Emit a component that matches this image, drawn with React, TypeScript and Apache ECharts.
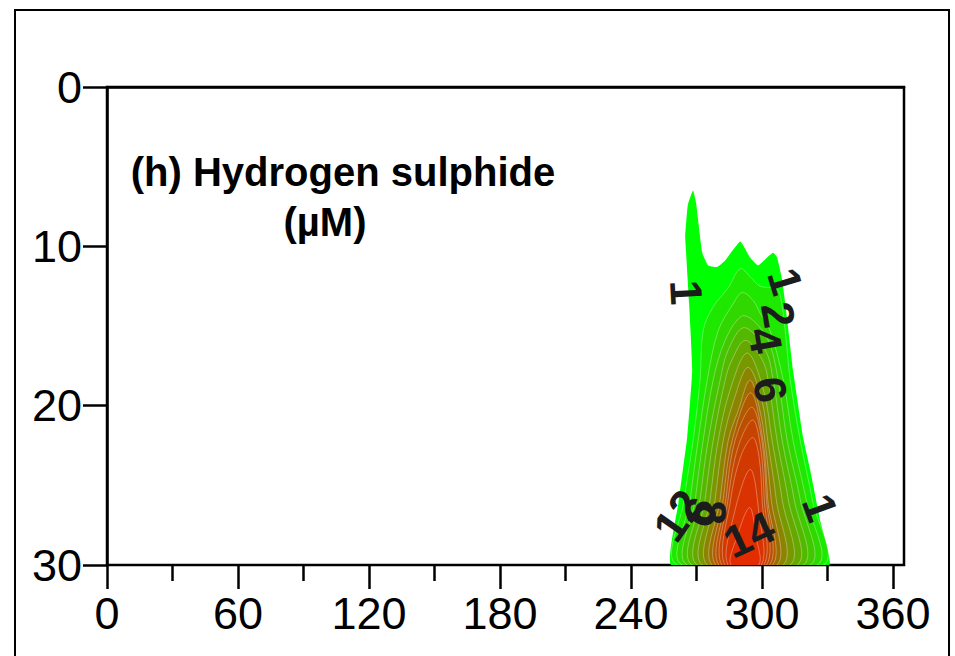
import React, { useEffect, useRef } from "react";
import * as echarts from "echarts";

// Axis tick labels
const xTickLabels = [0, 60, 120, 180, 240, 300, 360];
const yTickLabels = [0, 10, 20, 30];

// Contour outlines: [day of year, depth (m)]
const boundary = [[258.4,30],[261.7,26.1],[265.7,22.0],[268.0,17.8],[266.6,13.6],[265.2,10.4],[264.8,9.4],[266.0,7.4],[268.4,6.5],[269.8,7.3],[272.6,10.4],[275.3,11.2],[279.4,11.3],[283.0,10.9],[290.0,9.7],[294.5,10.7],[298.2,11.2],[302.3,10.7],[305.1,10.4],[306.9,10.7],[309.2,12.1],[311.5,14.6],[314.2,17.8],[318.8,22.0],[322.0,24.0],[326.6,27.2],[330.7,30]];
const level1 = [[261.1,30],[264.3,25.9],[268.4,22.2],[271.6,18.4],[273.0,15.3],[277.6,13.8],[284.5,12.6],[290.0,11.4],[294.5,11.9],[299.1,12.5],[306.9,12.7],[309.2,13.8],[310.6,15.3],[312.9,18.4],[317.5,22.2],[323.0,25.9],[328.0,30]];
const level2 = [[263.4,30],[267.1,25.9],[270.7,22.2],[274.9,18.4],[279.9,15.3],[286.8,13.6],[290.9,12.9],[295.9,13.4],[299.1,14.2],[303.7,15.3],[309.7,18.4],[314.2,22.2],[320.2,25.9],[325.2,30]];
const level3 = [[265.7,30],[269.4,25.9],[273.0,22.2],[277.6,18.4],[283.1,15.9],[290.4,14.4],[295.5,14.6],[302.8,15.9],[307.4,18.4],[311.5,22.2],[317.5,25.9],[322.0,30]];
const level4 = [[268.0,30],[271.6,25.9],[275.3,22.2],[280.8,18.4],[284.5,16.5],[291.8,15.1],[301.4,16.5],[305.1,18.4],[309.2,22.2],[314.7,25.9],[318.8,30]];
const level5 = [[270.3,30],[273.9,25.9],[277.6,22.2],[283.1,18.4],[286.3,17.1],[292.3,15.9],[300.0,17.1],[302.8,18.4],[306.9,22.2],[312.0,25.9],[316.1,30]];
const level6 = [[272.6,30],[276.2,25.9],[279.9,22.2],[285.4,19.0],[293.2,16.7],[300.6,19.0],[304.6,22.2],[309.2,25.9],[312.9,30]];
const level7 = [[274.9,30],[278.5,25.9],[282.2,22.2],[287.2,19.6],[293.6,17.6],[299.8,19.6],[302.6,22.2],[306.5,25.9],[309.7,30]];
const level8 = [[277.1,30],[280.8,25.9],[284.5,22.2],[289.1,20.3],[294.5,18.4],[299.0,20.3],[301.3,22.2],[304.2,25.9],[306.9,30]];
const level9 = [[278.8,30],[282.2,25.9],[286.3,22.2],[294.8,19.2],[300.4,22.2],[302.6,25.9],[304.8,30]];
const level10 = [[280.2,30],[283.4,25.9],[287.6,22.2],[295.3,20.1],[299.9,22.2],[302.0,25.9],[303.4,30]];
const level11 = [[281.6,30],[284.4,25.9],[289.0,22.6],[295.7,20.9],[299.3,22.6],[301.0,25.9],[302.0,30]];
const level12 = [[283.0,30],[285.6,25.9],[290.2,23.2],[295.7,22.0],[298.6,23.2],[300.0,25.9],[300.8,30]];
const level13 = [[284.4,30],[287.2,26.8],[294.6,24.0],[298.6,26.8],[299.6,30]];
const level14 = [[285.8,30],[288.6,28.2],[294.3,26.4],[297.2,28.2],[298.4,30]];

const contourLevels = [0, 1, 2, 3, 4, 5, 6, 7, 8, 9, 10, 11, 12, 13, 14];
const contourPolygons = [boundary, level1, level2, level3, level4, level5, level6, level7, level8, level9, level10, level11, level12, level13, level14];
const bandColors = ["#00ff00", "#1ee800", "#30d800", "#42c800", "#54b800", "#66a800", "#789800", "#8c8400", "#a06c00", "#b05a00", "#bc4e00", "#c64400", "#d03a00", "#da3200", "#e32c00"];

// Contour labels
const labelTexts = ["1", "1", "2", "4", "6", "12", "6", "8", "14", "1"];
const labelDays = [265.2, 310.6, 307.4, 301.4, 303.7, 261.6, 271.6, 276.2, 294.1, 326.6];
const labelDepths = [12.9, 12.2, 14.3, 15.9, 19.0, 26.9, 26.7, 26.7, 28.1, 26.4];
const labelAngles = [-87, -73, -80, -80, -80, 55, 60, -90, 25, -70];

const FONT = "'Liberation Sans', Arial, Helvetica, sans-serif";

export default function App() {
  const ref = useRef<HTMLDivElement>(null);
  useEffect(() => {
    if (!ref.current) return;
    const chart = echarts.init(ref.current, null, { renderer: "svg" });
    const axisLine = { show: true, lineStyle: { color: "#000", width: 2.5 } };
    const option: any = {
      animation: false,
      backgroundColor: "#ffffff",
      grid: [
        { left: 107, top: 87, width: 797, height: 478, show: true, borderColor: "#000", borderWidth: 2.5, backgroundColor: "transparent" },
        { left: 107, top: 87, width: 786, height: 478, show: false },
      ],
      xAxis: [
        {
          gridIndex: 0, type: "value", position: "bottom", min: 0, max: 365, z: 5,
          axisLine, axisTick: { show: false }, axisLabel: { show: false },
          splitLine: { show: false },
        },
        {
          gridIndex: 1, type: "value", position: "bottom", min: 0, max: 360, interval: 60,
          axisLine: { show: false, onZero: false },
          axisTick: { show: true, inside: false, length: 24, lineStyle: { color: "#000", width: 2.5 } },
          minorTick: { show: true, splitNumber: 2, length: 16, lineStyle: { color: "#000", width: 2.5 } },
          axisLabel: {
            fontSize: 45, margin: 26, color: "#000", fontFamily: FONT,
            formatter: (v: number) => (xTickLabels.includes(v) ? String(v) : ""),
          },
          splitLine: { show: false }, minorSplitLine: { show: false },
        },
      ],
      yAxis: [
        {
          gridIndex: 0, type: "value", position: "left", inverse: true, min: 0, max: 30, interval: 10, z: 5,
          axisLine,
          axisTick: { show: true, length: 24, lineStyle: { color: "#000", width: 2.5 } },
          axisLabel: {
            fontSize: 45, margin: 25, color: "#000", fontFamily: FONT,
            formatter: (v: number) => (yTickLabels.includes(v) ? String(v) : ""),
          },
          splitLine: { show: false },
        },
        { gridIndex: 1, type: "value", position: "left", show: false, min: 0, max: 30, inverse: true },
      ],
      series: [
        {
          type: "custom",
          xAxisIndex: 0,
          yAxisIndex: 0,
          clip: true,
          silent: true,
          z: 2,
          data: contourPolygons.map((poly, i) => [poly[0][0], poly[0][1], contourLevels[i]]),
          renderItem: (params: any, api: any) => {
            const i = params.dataIndex;
            const pts = contourPolygons[i].map((p) => api.coord(p));
            return {
              type: "polygon",
              shape: { points: pts, smooth: i === 0 ? 0.12 : 0.35 },
              style: {
                fill: bandColors[i],
                stroke: i === 0 ? "none" : "rgba(255,255,255,0.4)",
                lineWidth: 0.8,
              },
            };
          },
        },
        {
          type: "scatter",
          xAxisIndex: 0,
          yAxisIndex: 0,
          z: 6,
          silent: true,
          symbolSize: 1,
          itemStyle: { color: "rgba(0,0,0,0)" },
          data: labelTexts.map((t, i) => ({
            value: [labelDays[i], labelDepths[i]],
            name: t,
            label: { rotate: labelAngles[i] },
          })),
          label: {
            show: true,
            position: "inside",
            formatter: (p: any) => p.name,
            fontSize: 45,
            fontWeight: "bold",
            color: "#1c1c1c",
            textBorderWidth: 0,
            textBorderColor: "transparent",
            opacity: 1,
            fontFamily: FONT,
          },
        },
      ],
      graphic: [
        {
          type: "rect",
          shape: { x: 15, y: 10, width: 934, height: 700 },
          style: { fill: "none", stroke: "#000", lineWidth: 2 },
          silent: true,
        },
        {
          type: "text",
          x: 343,
          y: 172,
          style: {
            text: "(h) Hydrogen sulphide",
            font: `bold 40px ${FONT}`,
            fill: "#000",
            align: "center",
            verticalAlign: "middle",
          },
        },
        {
          type: "text",
          x: 325,
          y: 222,
          style: {
            text: "(µM)",
            font: `bold 40px ${FONT}`,
            fill: "#000",
            align: "center",
            verticalAlign: "middle",
          },
        },
      ],
    };
    chart.setOption(option);
    return () => chart.dispose();
  }, []);
  return (
    <div
      ref={ref}
      style={{ position: "absolute", left: 0, top: 0, width: 955, height: 656, background: "#fff" }}
    />
  );
}
